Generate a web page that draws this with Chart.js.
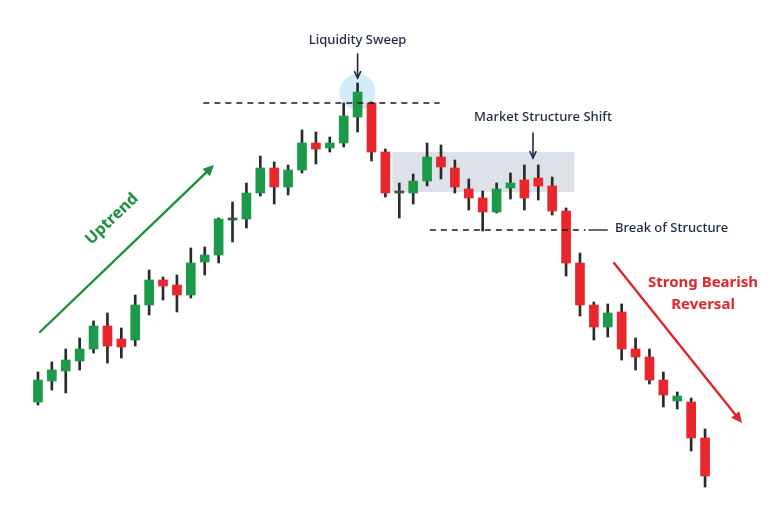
<!DOCTYPE html>
<html>
<head>
<meta charset="utf-8">
<script src="https://cdn.jsdelivr.net/npm/chart.js@4.4.0/dist/chart.umd.min.js"></script>
<style>
    html, body { margin: 0; padding: 0; background: #ffffff; }
    #wrap { width: 768px; height: 512px; position: relative; }
</style>
</head>
<body>
<div id="wrap"><canvas id="candleChart"></canvas></div>
<script>
// 캔들 데이터 (시가 / 고가 / 저가 / 종가)
const candleLabels = Array.from({ length: 49 }, (_, i) => 'C' + (i + 1));
const openPrices = [110, 131, 141, 151, 163, 186, 173, 172, 207, 232, 227, 217, 250, 257, 292, 293, 319, 344, 325, 342, 369, 364, 369, 395, 409, 360, 319, 319, 331, 355, 344, 323, 314, 300, 324, 332, 334, 326, 301, 249, 207, 185, 200, 163, 155, 132, 111, 110, 74];
const highPrices = [140, 150, 163, 174, 191, 199, 184, 217, 242, 235, 237, 264, 265, 294, 310, 329, 356, 350, 347, 382, 380, 375, 409, 429, 410, 363, 329, 338, 369, 367, 352, 333, 321, 329, 339, 347, 347, 335, 304, 259, 210, 208, 208, 174, 163, 140, 120, 114, 83];
const lowPrices = [107, 122, 119, 142, 159, 149, 154, 166, 197, 212, 200, 214, 237, 249, 270, 284, 316, 308, 317, 339, 348, 360, 365, 380, 351, 315, 294, 308, 326, 333, 319, 302, 281, 299, 313, 302, 312, 297, 236, 196, 172, 175, 152, 142, 128, 105, 103, 61, 25];
const closePrices = [132, 142, 152, 163, 186, 166, 165, 207, 232, 226, 217, 249, 257, 293, 294, 319, 344, 325, 342, 369, 363, 369, 396, 420, 360, 319, 321, 331, 355, 345, 325, 314, 300, 323, 329, 314, 326, 301, 249, 207, 185, 199, 163, 155, 132, 117, 116, 74, 36];

// 주석 위치 (가격 / 캔들 인덱스)
const sweepIndex = 23;
const sweepLevel = 409;
const zoneRange = [320, 360];
const bosLevel = 282;

const UP = '#1c9a4a';
const DOWN = '#e8262c';
const WICK = '#2a2a2a';
const NAVY = '#1b2a41';

const bodyColors = openPrices.map((o, i) => {
    const c = closePrices[i];
    if (Math.abs(c - o) <= 2) return '#2f5c3d';
    return c > o ? UP : DOWN;
});

function drawArrow(ctx, x1, y1, x2, y2, color, width, head, filled) {
    const ang = Math.atan2(y2 - y1, x2 - x1);
    ctx.save();
    ctx.strokeStyle = color;
    ctx.fillStyle = color;
    ctx.lineWidth = width;
    ctx.lineCap = 'round';
    ctx.beginPath();
    ctx.moveTo(x1, y1);
    ctx.lineTo(filled ? x2 - Math.cos(ang) * head * 0.8 : x2, filled ? y2 - Math.sin(ang) * head * 0.8 : y2);
    ctx.stroke();
    ctx.beginPath();
    ctx.moveTo(x2 - Math.cos(ang - 0.45) * head, y2 - Math.sin(ang - 0.45) * head);
    ctx.lineTo(x2, y2);
    ctx.lineTo(x2 - Math.cos(ang + 0.45) * head, y2 - Math.sin(ang + 0.45) * head);
    if (filled) {
        ctx.closePath();
        ctx.fill();
    } else {
        ctx.stroke();
    }
    ctx.restore();
}

function hLine(ctx, x1, x2, y, dash) {
    ctx.save();
    ctx.strokeStyle = '#1a1a1a';
    ctx.lineWidth = 1.3;
    ctx.setLineDash(dash);
    ctx.beginPath();
    ctx.moveTo(x1, y);
    ctx.lineTo(x2, y);
    ctx.stroke();
    ctx.restore();
}

const notesPlugin = {
    id: 'notes',
    beforeDatasetsDraw(chart) {
        const { ctx, scales: { x, y } } = chart;
        // 시장 구조 전환 구간
        ctx.save();
        ctx.fillStyle = 'rgba(203, 209, 219, 0.65)';
        const zx1 = x.getPixelForValue(25.5);
        const zx2 = x.getPixelForValue(38.6);
        ctx.fillRect(zx1, y.getPixelForValue(zoneRange[1]), zx2 - zx1, y.getPixelForValue(zoneRange[0]) - y.getPixelForValue(zoneRange[1]));
        // 유동성 스윕 원
        ctx.fillStyle = 'rgba(183, 222, 243, 0.6)';
        ctx.beginPath();
        ctx.arc(x.getPixelForValue(sweepIndex), y.getPixelForValue(highPrices[sweepIndex]) + 9, 18, 0, Math.PI * 2);
        ctx.fill();
        ctx.restore();
    },
    afterDatasetsDraw(chart) {
        const { ctx, scales: { x, y } } = chart;
        const sx = x.getPixelForValue(sweepIndex);

        // 수평선
        hLine(ctx, x.getPixelForValue(11.9), x.getPixelForValue(28.9), y.getPixelForValue(sweepLevel), [6, 5]);
        hLine(ctx, x.getPixelForValue(28.2), x.getPixelForValue(39.4), y.getPixelForValue(bosLevel), [6, 5]);
        hLine(ctx, x.getPixelForValue(39.6), x.getPixelForValue(41), y.getPixelForValue(bosLevel), []);

        ctx.save();
        ctx.fillStyle = NAVY;
        ctx.font = '500 13px "Noto Sans"';
        ctx.textAlign = 'center';
        ctx.textBaseline = 'middle';
        ctx.fillText('Liquidity Sweep', sx, 40);
        ctx.fillText('Market Structure Shift', 543, 117);
        ctx.textAlign = 'left';
        ctx.fillText('Break of Structure', 615, 228);
        ctx.restore();

        drawArrow(ctx, sx, 54, sx, 78, NAVY, 1.6, 7, false);
        drawArrow(ctx, 533, 133, 533, 158, NAVY, 1.6, 7, false);

        // 상승 추세
        drawArrow(ctx, 40, 332, 214, 165, '#1e8f42', 2.4, 12, true);
        ctx.save();
        ctx.translate(112, 219);
        ctx.rotate(Math.atan2(165 - 332, 214 - 40));
        ctx.fillStyle = '#1e8f42';
        ctx.font = 'bold 16px "Noto Sans"';
        ctx.textAlign = 'center';
        ctx.textBaseline = 'middle';
        ctx.fillText('Uptrend', 0, 0);
        ctx.restore();

        // 하락 반전
        drawArrow(ctx, 614, 263, 742, 423, '#e0262c', 2.4, 12, true);
        ctx.save();
        ctx.fillStyle = '#e0262c';
        ctx.font = 'bold 15px "Noto Sans"';
        ctx.textAlign = 'center';
        ctx.textBaseline = 'middle';
        ctx.fillText('Strong Bearish', 703, 283);
        ctx.fillText('Reversal', 703, 305);
        ctx.restore();
    },
};

const ctx = document.getElementById('candleChart').getContext('2d');
new Chart(ctx, {
    type: 'bar',
    data: {
        labels: candleLabels,
        datasets: [
            {
                label: 'body',
                data: openPrices.map((o, i) => [o, closePrices[i]]),
                backgroundColor: bodyColors,
                barThickness: 9,
                grouped: false,
                order: 0,
            },
            {
                label: 'wick',
                data: lowPrices.map((l, i) => [l, highPrices[i]]),
                backgroundColor: WICK,
                barThickness: 2,
                grouped: false,
                order: 1,
            },
        ],
    },
    options: {
        responsive: true,
        maintainAspectRatio: false,
        animation: false,
        layout: { padding: { left: 31, right: 56, top: 0, bottom: 0 } },
        plugins: {
            legend: { display: false },
            tooltip: { enabled: false },
        },
        scales: {
            x: { display: false },
            y: { display: false, min: 0, max: 512 },
        },
    },
    plugins: [notesPlugin],
});
</script>
</body>
</html>
